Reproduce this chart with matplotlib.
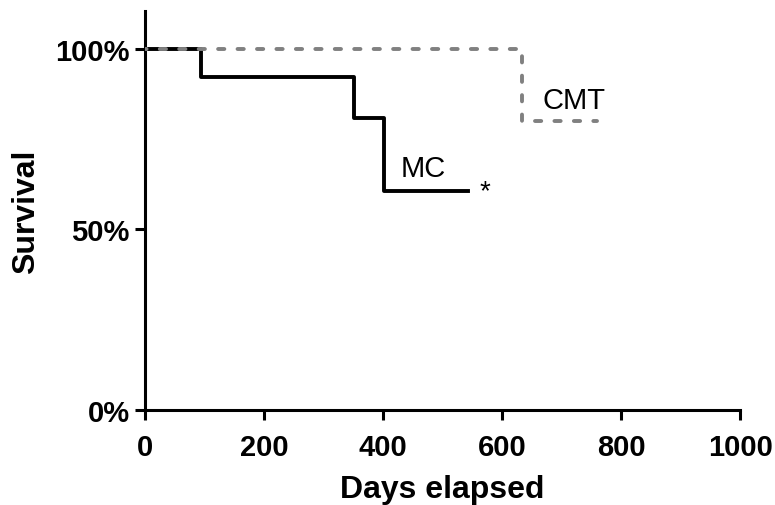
import numpy as np
import matplotlib.pyplot as plt

plt.rcParams['font.family'] = ['Liberation Sans', 'DejaVu Sans']

# Kaplan-Meier step data (days, survival %)
mc_days = [0, 94, 352, 402, 542]
mc_surv = [100, 92.3, 80.8, 60.6, 60.6]
cmt_days = [0, 634, 760]
cmt_surv = [100, 80, 80]

x_ticks = [0, 200, 400, 600, 800, 1000]
y_ticks = [0, 50, 100]
y_labels = ['0%', '50%', '100%']

fig = plt.figure(figsize=(7.75, 5.06), dpi=100, facecolor='white')
ax = fig.add_axes([0.187, 0.188, 0.768, 0.788])

ax.step(mc_days, mc_surv, where='post', color='black', lw=2.8, zorder=2)
ax.step(cmt_days, cmt_surv, where='post', color='#808080', lw=2.8,
        linestyle=(1.2, (1.6, 3.4)), dash_capstyle='round', zorder=3)

ax.text(468, 67, 'MC', fontsize=21, ha='center', va='center')
ax.text(721, 86, 'CMT', fontsize=21, ha='center', va='center')
ax.text(572, 60.5, '*', fontsize=20, ha='center', va='center')

ax.set_xlim(0, 1000)
ax.set_ylim(0, 110.5)
ax.set_xticks(x_ticks)
ax.set_yticks(y_ticks)
ax.set_yticklabels(y_labels)
for s in ['top', 'right']:
    ax.spines[s].set_visible(False)
for s in ['left', 'bottom']:
    ax.spines[s].set_linewidth(2.2)
ax.tick_params(width=2.2, length=7, labelsize=21, direction='out')
ax.tick_params(axis='x', pad=10)
ax.tick_params(axis='y', pad=4)
for lab in ax.get_xticklabels() + ax.get_yticklabels():
    lab.set_fontweight('bold')
ax.set_xlabel('Days elapsed', fontsize=23, fontweight='bold', labelpad=9)
ax.set_ylabel('Survival', fontsize=23, fontweight='bold', labelpad=10)

fig.savefig('out.png', dpi=100, facecolor='white')
